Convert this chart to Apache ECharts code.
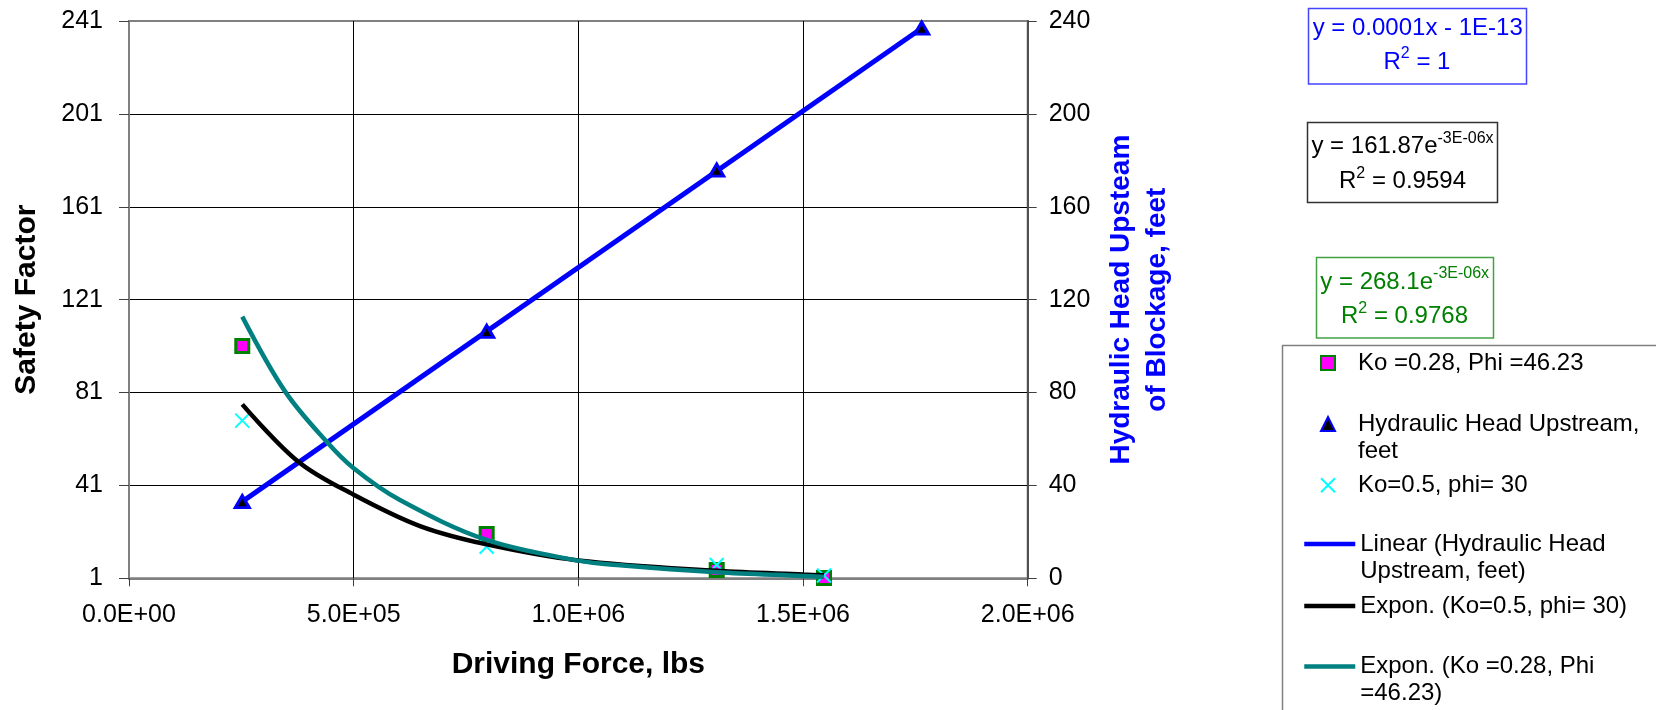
<!DOCTYPE html>
<html>
<head>
<meta charset="utf-8">
<script src="https://cdn.jsdelivr.net/npm/echarts@6/dist/echarts.min.js"></script>
<style>
html,body{margin:0;padding:0;background:#fff;}
#chart{width:1656px;height:710px;}
</style>
</head>
<body>
<div id="chart"></div>
<script>
// ---------------- data ----------------
var sfForce = [252100, 796000, 1307900, 1546700];          // Driving force, lbs
var sfKo028 = [101.0, 20.1, 4.6, 1.1];                      // Ko =0.28, Phi =46.23
var sfKo05  = [68.9, 14.6, 6.7, 2.2];                       // Ko=0.5, phi= 30

var headForce = [252100, 796000, 1307900, 1764100];         // Driving force, lbs
var headFeet  = [33.0, 106.3, 175.8, 236.9];                // Hydraulic head upstream, feet

var linTrendForce = [252100, 1764100];
var linTrendHead  = [33.0, 236.9];

var expKo05Force = [252100, 376800, 500000, 647600, 796000, 1000000, 1307900, 1500600, 1546700];
var expKo05Val   = [75.9, 51.2, 37.0, 23.5, 15.6, 8.7, 4.2, 2.6, 2.3];

var expKo028Force = [252100, 347200, 440000, 500000, 603000, 796000, 1000000, 1092700, 1307900, 1500600, 1546700];
var expKo028Val   = [113.7, 81.5, 59.8, 48.4, 34.7, 17.5, 8.6, 6.6, 3.6, 2.0, 1.6];

var xTicks = [0, 500000, 1000000, 1500000, 2000000];
var xTickLabels = ['0.0E+00', '5.0E+05', '1.0E+06', '1.5E+06', '2.0E+06'];

var seriesNames = [
  'Ko =0.28, Phi =46.23',
  'Hydraulic Head Upstream, feet',
  'Ko=0.5, phi= 30',
  'Linear (Hydraulic Head Upstream, feet)',
  'Expon. (Ko=0.5, phi= 30)',
  'Expon. (Ko =0.28, Phi =46.23)'
];
var legendLabels = [
  'Ko =0.28, Phi =46.23',
  '\nHydraulic Head Upstream,\nfeet',
  'Ko=0.5, phi= 30',
  '\nLinear (Hydraulic Head\nUpstream, feet)',
  'Expon. (Ko=0.5, phi= 30)',
  '\nExpon. (Ko =0.28, Phi\n=46.23)'
];

function pairs(xs, ys) { return xs.map(function (x, i) { return [x, ys[i]]; }); }

// ---------------- chart ----------------
var FONT = 'Liberation Sans, Arial, Helvetica, sans-serif';
var chart = echarts.init(document.getElementById('chart'), null, {renderer: 'canvas'});

var legendTops = [349.5, 383.5, 471.8, 503.5, 592.5, 626];
var legends = seriesNames.map(function (nm, i) {
  var isLine = i >= 3;
  var lg = {
    orient: 'vertical',
    left: isLine ? 1302 : 1320,
    top: legendTops[i],
    padding: 0,
    itemGap: 0,
    itemWidth: isLine ? 51 : 14,
    itemHeight: 14,
    selectedMode: false,
    data: [nm],
    formatter: function (name) { return legendLabels[seriesNames.indexOf(name)]; },
    textStyle: {fontSize: 24, fontFamily: FONT, color: '#000', lineHeight: 27,
                padding: isLine ? 0 : [0, 0, 0, 18]}
  };
  if (isLine) {
    lg.lineStyle = {width: 4.5};
    lg.itemStyle = {opacity: 0};
  }
  return lg;
});

function eqText(x, y, text, color) {
  return {
    type: 'text', x: x, y: y, z: 10,
    style: {
      text: text, align: 'center', verticalAlign: 'middle', fill: color,
      rich: {
        n: {fontSize: 24, fontFamily: FONT, lineHeight: 32, fill: color, color: color},
        s: {fontSize: 16, fontFamily: FONT, lineHeight: 16, verticalAlign: 'top', fill: color, color: color}
      }
    }
  };
}

var option = {
  animation: false,
  backgroundColor: '#ffffff',
  grid: {
    left: 129, top: 21, width: 898.7, height: 557.3,
    show: true, borderColor: '#808080', borderWidth: 2, backgroundColor: 'transparent',
    containLabel: false, outerBoundsMode: 'none'
  },
  xAxis: {
    type: 'value', min: 0, max: 2000000, interval: 500000,
    name: 'Driving Force, lbs', nameLocation: 'middle', nameGap: 71,
    nameTextStyle: {fontSize: 30, fontWeight: 'bold', fontFamily: FONT, color: '#000'},
    axisLine: {show: true, onZero: false, lineStyle: {color: '#808080', width: 2}},
    axisTick: {show: true, inside: false, length: 8, lineStyle: {color: '#404040', width: 1}},
    axisLabel: {fontSize: 25, fontFamily: FONT, color: '#000', margin: 24,
      formatter: function (v) { return xTickLabels[xTicks.indexOf(v)]; }},
    splitLine: {show: true, showMinLine: false, showMaxLine: false, lineStyle: {color: '#000', width: 1}}
  },
  yAxis: [{
    type: 'value', position: 'left', min: 1, max: 241, interval: 40,
    name: 'Safety Factor', nameLocation: 'middle', nameGap: 87,
    nameTextStyle: {fontSize: 30, fontWeight: 'bold', fontFamily: FONT, color: '#000'},
    axisLine: {show: true, onZero: false, lineStyle: {color: '#808080', width: 2}},
    axisTick: {show: true, inside: false, length: 10, lineStyle: {color: '#404040', width: 1}},
    axisLabel: {fontSize: 25, fontFamily: FONT, color: '#000', margin: 26,
      formatter: function (v) { return String(Math.round(v)); }},
    splitLine: {show: true, showMinLine: false, showMaxLine: false, lineStyle: {color: '#000', width: 1}}
  }, {
    type: 'value', position: 'right', min: 0, max: 240, interval: 40,
    name: 'Hydraulic Head Upsteam\nof Blockage, feet', nameLocation: 'middle', nameGap: 76,
    nameTextStyle: {fontSize: 28, fontWeight: 'bold', fontFamily: FONT, color: '#0000FF', lineHeight: 36, align: 'center'},
    axisLine: {show: true, onZero: false, lineStyle: {color: '#505050', width: 2}},
    axisTick: {show: true, inside: false, length: 9, lineStyle: {color: '#404040', width: 1}},
    axisLabel: {fontSize: 25, fontFamily: FONT, color: '#000', margin: 21,
      formatter: function (v) { return String(Math.round(v)); }},
    splitLine: {show: false}
  }],
  legend: legends,
  graphic: [
    {type: 'rect', z: 0, shape: {x: 1282.5, y: 345.5, width: 500, height: 500},
     style: {fill: '#fff', stroke: '#808080', lineWidth: 1.5}},
    {type: 'rect', shape: {x: 1308.5, y: 8.5, width: 218, height: 75.5},
     style: {fill: '#fff', stroke: '#4444ff', lineWidth: 1.5}},
    {type: 'rect', shape: {x: 1307.5, y: 122.5, width: 190, height: 80},
     style: {fill: '#fff', stroke: '#333333', lineWidth: 1.5}},
    {type: 'rect', shape: {x: 1316.5, y: 257.5, width: 177, height: 80.5},
     style: {fill: '#fff', stroke: '#44a044', lineWidth: 1.5}},
    eqText(1417.7, 28, '{n|y = 0.0001x - 1E-13}', '#0000FF'),
    eqText(1417, 62, '{n|R}{s|2}{n| = 1}', '#0000FF'),
    eqText(1402.5, 146.7, '{n|y = 161.87e}{s|-3E-06x}', '#000000'),
    eqText(1402.5, 181.3, '{n|R}{s|2}{n| = 0.9594}', '#000000'),
    eqText(1404.7, 282, '{n|y = 268.1e}{s|-3E-06x}', '#008000'),
    eqText(1404.5, 316.7, '{n|R}{s|2}{n| = 0.9768}', '#008000')
  ],
  series: [
    {
      name: seriesNames[3], type: 'line', yAxisIndex: 1, symbol: 'none', showSymbol: false,
      data: pairs(linTrendForce, linTrendHead),
      lineStyle: {color: '#0000FF', width: 5}, itemStyle: {color: '#0000FF'}, z: 2
    },
    {
      name: seriesNames[1], type: 'scatter', yAxisIndex: 1, symbol: 'triangle', symbolSize: [14, 12],
      data: pairs(headForce, headFeet),
      itemStyle: {color: '#000000', borderColor: '#0000FF', borderWidth: 3, opacity: 1}, z: 3
    },
    {
      name: seriesNames[0], type: 'scatter', yAxisIndex: 0, symbol: 'rect', symbolSize: 13,
      data: pairs(sfForce, sfKo028),
      itemStyle: {color: '#FF00FF', borderColor: '#008000', borderWidth: 3, opacity: 1}, z: 3
    },
    {
      name: seriesNames[2], type: 'scatter', yAxisIndex: 0, symbol: 'path://M0,0L10,10M10,0L0,10', symbolSize: 14,
      data: pairs(sfForce, sfKo05),
      itemStyle: {color: '#00FFFF', borderColor: '#00FFFF', borderWidth: 2, opacity: 1}, z: 3
    },
    {
      name: seriesNames[4], type: 'line', yAxisIndex: 0, symbol: 'none', showSymbol: false,
      smooth: 0.35,
      data: pairs(expKo05Force, expKo05Val),
      lineStyle: {color: '#000000', width: 4.5}, itemStyle: {color: '#000000'}, z: 4
    },
    {
      name: seriesNames[5], type: 'line', yAxisIndex: 0, symbol: 'none', showSymbol: false,
      smooth: 0.35,
      data: pairs(expKo028Force, expKo028Val),
      lineStyle: {color: '#008080', width: 4.5}, itemStyle: {color: '#008080'}, z: 4
    }
  ]
};
chart.setOption(option);
</script>
</body>
</html>
